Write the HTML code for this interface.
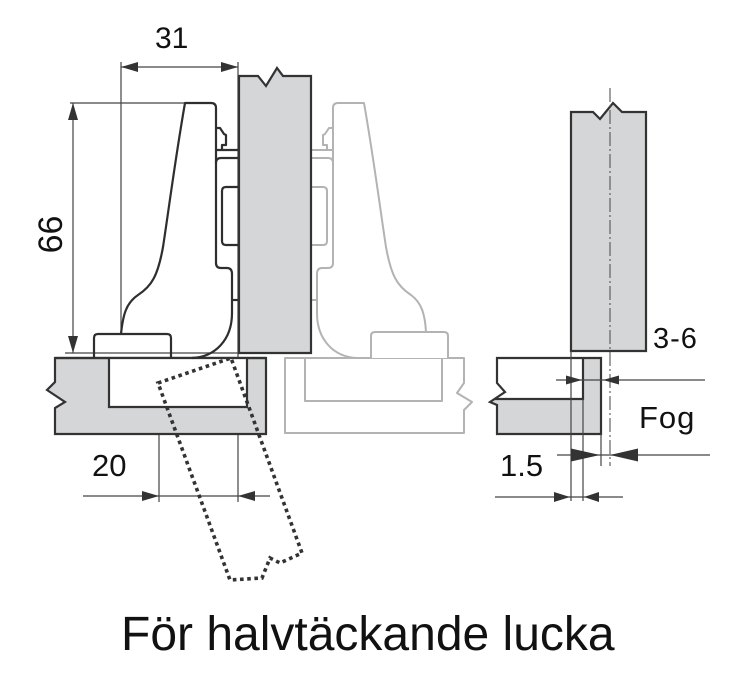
<!DOCTYPE html>
<html>
<head>
<meta charset="utf-8">
<style>
  html, body { margin: 0; padding: 0; background: #fff; }
  svg { display: block; }
  text { font-family: "Liberation Sans", Arial, sans-serif; fill: #111; }
</style>
</head>
<body>
<svg width="741" height="687" viewBox="0 0 741 687" xmlns="http://www.w3.org/2000/svg">
  <rect x="0" y="0" width="741" height="687" fill="#fff"/>

  <!-- ============ LEFT DIAGRAM ============ -->
  <!-- thin dimension/extension lines -->
  <g stroke="#444" stroke-width="1.2" fill="none">
    <line x1="121" y1="62" x2="121" y2="334"/>
    <line x1="238" y1="62" x2="238" y2="502"/>
    <line x1="121" y1="67" x2="238" y2="67"/>
    <line x1="70" y1="103" x2="186" y2="103"/>
    <line x1="65" y1="353" x2="238" y2="353"/>
    <line x1="73" y1="103" x2="73" y2="353"/>
    <line x1="83" y1="496" x2="270" y2="496"/>
    <line x1="159" y1="383" x2="159" y2="502"/>
  </g>
  <g fill="#333">
    <polygon points="121,67 138,62 138,72"/>
    <polygon points="238,67 221,62 221,72"/>
    <polygon points="73,103 68,120 78,120"/>
    <polygon points="73,353 68,336 78,336"/>
    <polygon points="159,496 142,491 142,501"/>
    <polygon points="238,496 255,491 255,501"/>
  </g>

  <!-- ghost panel -->
  <g stroke="#b3b3b3" stroke-width="2" fill="none" stroke-linejoin="round">
    <path d="M285,358 L464,358 L464,383 L457,393 L472,402 L464,410 L464,433 L285,433 Z" fill="#fff"/>
    <path d="M305,358 L305,401 L442,401 L442,358"/>
  </g>

  <!-- ghost hinge (mirrored) -->
  <g stroke="#b3b3b3" stroke-width="2" fill="none" stroke-linejoin="round" transform="translate(549,0) scale(-1,1)">
    <path d="M123,332 C124,315 127,303 138,295 C152,286 158,275 163,247 C168,215 175,160 185,103 L211,103 Q216,103 216,108 L216,128"/>
    <path d="M216,128 L220,128 L224,134 L226,135 L226,145 L222,145 L222,150 M216,150 L238,150"/>
    <path d="M216,128 L216,263 Q216,268 221,268 L227,268 Q232,268 232,274 L232,313 C232,340 215,357 192,358"/>
    <path d="M216,163 Q216,158 221,158 L238,158"/>
    <path d="M238,187 L226,187 Q222,187 222,191 L222,241 Q222,245 226,245 L238,245"/>
    <line x1="232" y1="300" x2="238" y2="300"/>
  </g>
  <path d="M371,358 L371,336 Q371,332 375,332 L444,332 Q448,332 448,336 L448,358" stroke="#b3b3b3" stroke-width="2" fill="#fff"/>

  <!-- left panel -->
  <path d="M55,358 L266,358 L266,434 L55,434 L55,408 L65,402 L47,390 L55,382 Z" fill="#d5d6d8" stroke="#333" stroke-width="2.2" stroke-linejoin="miter"/>
  <path d="M109,358 L109,407 L247,407 L247,358 Z" fill="#fff" stroke="none"/>
  <path d="M109,358 L109,407 L247,407 L247,358" fill="none" stroke="#333" stroke-width="2.2"/>
  <line x1="55" y1="358" x2="266" y2="358" stroke="#333" stroke-width="2.2"/>

  <!-- left door -->
  <path d="M239,76 L258,76 L266,86 L277,68 L283,76 L311,76 L311,353 L239,353 Z" fill="#d5d6d8" stroke="#333" stroke-width="2.2" stroke-linejoin="miter"/>

  <!-- dark hinge -->
  <g stroke="#2e2e2e" stroke-width="2.2" fill="none" stroke-linejoin="round">
    <path d="M121,334 C123,315 126,303 138,295 C152,286 158,275 163,247 C168,215 175,160 185,103 L211,103 Q216,103 216,108 L216,128"/>
    <path d="M216,128 L220,128 L224,134 L226,135 L226,145 L222,145 L222,150 M216,150 L238,150"/>
    <path d="M216,128 L216,263 Q216,268 221,268 L227,268 Q232,268 232,274 L232,313 C232,340 215,357 192,358"/>
    <path d="M216,163 Q216,158 221,158 L238,158"/>
    <path d="M238,187 L226,187 Q222,187 222,191 L222,241 Q222,245 226,245 L238,245"/>
    <line x1="232" y1="300" x2="238" y2="300"/>
    <path d="M94,358 L94,338 Q94,334 98,334 L167,334 Q171,334 171,338 L171,358"/>
  </g>

  <!-- dotted rotated door -->
  <path d="M158,383 L231,358 L302,553 L280,563 L270,558 L262,578 L230,580 Z" fill="none" stroke="#333" stroke-width="3.6" stroke-dasharray="3.6 3.6"/>

  <!-- left labels -->
  <text x="155" y="48" font-size="30">31</text>
  <text transform="translate(62,234.5) rotate(-90)" text-anchor="middle" font-size="34">66</text>
  <text x="92" y="476" font-size="31">20</text>

  <!-- ============ RIGHT DIAGRAM ============ -->
  <!-- right door -->
  <path d="M571,112 L593,112 L600,119 L613,103 L622,112 L646,112 L646,351 L571,351 Z" fill="#d5d6d8" stroke="#333" stroke-width="2.2" stroke-linejoin="miter"/>

  <!-- right panel -->
  <path d="M497,358 L601,358 L601,434 L497,434 L497,405 L490,402 L505,392 L497,383 Z" fill="#fff" stroke="none"/>
  <path d="M583,358 L601,358 L601,434 L497,434 L497,405 L490,402 L494.5,399 L583,399 Z" fill="#d5d6d8" stroke="none"/>
  <path d="M497,358 L601,358 L601,434 L497,434 L497,405 L490,402 L505,392 L497,383 Z" fill="none" stroke="#333" stroke-width="2.2"/>
  <path d="M494.5,399 L583,399 L583,358" fill="none" stroke="#333" stroke-width="2.2"/>

  <!-- centerline -->
  <line x1="610" y1="88" x2="610" y2="466" stroke="#555" stroke-width="1.1" stroke-dasharray="14 3 2 3"/>

  <!-- thin lines -->
  <g stroke="#444" stroke-width="1.2" fill="none">
    <line x1="571" y1="351" x2="571" y2="501"/>
    <line x1="583" y1="399" x2="583" y2="501"/>
    <line x1="601" y1="434" x2="601" y2="466"/>
    <line x1="556" y1="380" x2="705" y2="380"/>
    <line x1="557" y1="455" x2="710" y2="455"/>
    <line x1="495" y1="497" x2="623" y2="497"/>
  </g>
  <g fill="#333">
    <polygon points="582,380 566,375.5 566,384.5"/>
    <polygon points="603,380 619,375.5 619,384.5"/>
    <polygon points="600,455 571,448.5 571,461.5"/>
    <polygon points="610,455 638,448.5 638,461.5"/>
    <polygon points="570,497 554,492 554,502"/>
    <polygon points="584,497 599,492 599,502"/>
  </g>

  <!-- right labels -->
  <text x="653" y="348" font-size="29" letter-spacing="1">3-6</text>
  <text x="639" y="428" font-size="31" letter-spacing="1">Fog</text>
  <text x="500" y="476" font-size="31">1.5</text>

  <!-- title -->
  <text x="121" y="650" font-size="48">För halvtäckande lucka</text>
</svg>
</body>
</html>
